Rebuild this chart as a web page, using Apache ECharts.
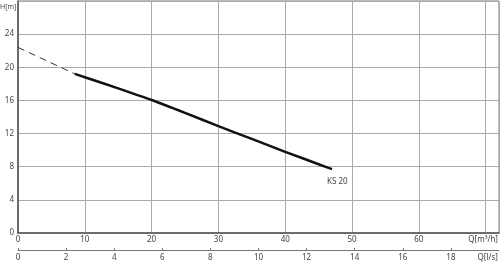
<!DOCTYPE html>
<html><head><meta charset="utf-8">
<script src="https://cdn.jsdelivr.net/npm/echarts@6/dist/echarts.min.js"></script>
<style>html,body{margin:0;padding:0;background:#fff}#c{width:500px;height:263px}</style>
</head><body><div id="c"></div>
<script>
const qTicks = [0, 10, 20, 30, 40, 50, 60];
const lsTicks = [0, 2, 4, 6, 8, 10, 12, 14, 16, 18];
const hTicks = [0, 4, 8, 12, 16, 20, 24];
const solidCurve = [[8.5, 19.2], [10, 18.8], [15, 17.45], [20, 16.05], [25, 14.5], [30, 12.9], [35, 11.35], [40, 9.8], [45, 8.3], [47, 7.7]];
const dashedCurve = [[0, 22.4], [8.5, 19.2]];
const seriesName = 'KS 20';
const qUnit = 'Q[m³/h]';
const lsUnit = 'Q[l/s]';
const hUnit = 'H[m]';

const font = 'Noto Sans';
const lc = '#444';
const chart = echarts.init(document.getElementById('c'), null, {renderer: 'canvas'});
chart.setOption({
  animation: false,
  grid: [
    {left: 18, right: 1, top: 1, bottom: 30, show: true, borderColor: '#777', borderWidth: 1},
    {left: 18, right: 1, top: 250, height: 0}
  ],
  xAxis: [
    {gridIndex: 0, type: 'value', min: 0, max: 72, interval: 10,
     axisLine: {show: true, lineStyle: {color: '#555', width: 1.5}},
     axisTick: {show: false},
     splitLine: {show: true, lineStyle: {color: '#aaa', width: 1}},
     axisLabel: {color: lc, fontFamily: font, fontSize: 8, margin: 3, showMaxLabel: false,
       formatter: v => qTicks.includes(v) ? String(v) : ''}},
    {gridIndex: 1, type: 'value', min: 0, max: 20, interval: 2,
     axisLine: {show: true, onZero: false, lineStyle: {color: '#777', width: 1}},
     axisTick: {show: true, inside: true, length: 2, lineStyle: {color: '#777'}},
     splitLine: {show: false},
     axisLabel: {color: lc, fontFamily: font, fontSize: 8, margin: 4, showMaxLabel: false,
       formatter: v => lsTicks.includes(v) ? String(v) : ''}}
  ],
  yAxis: [
    {gridIndex: 0, type: 'value', min: 0, max: 28, interval: 4,
     axisLine: {show: true, lineStyle: {color: '#555', width: 1.5}},
     axisTick: {show: false},
     splitLine: {show: true, lineStyle: {color: '#aaa', width: 1}},
     axisLabel: {color: lc, fontFamily: font, fontSize: 8, margin: 4, showMaxLabel: false,
       formatter: v => hTicks.includes(v) ? String(v) : ''}},
    {gridIndex: 1, type: 'value', show: false}
  ],
  series: [
    {type: 'line', xAxisIndex: 0, yAxisIndex: 0, data: dashedCurve, symbol: 'none',
     lineStyle: {color: '#333', width: 1, type: [7, 5]}},
    {type: 'line', name: seriesName, xAxisIndex: 0, yAxisIndex: 0, data: solidCurve, symbol: 'none', smooth: 0.2,
     lineStyle: {color: '#111', width: 2.5},
     endLabel: {show: true, formatter: seriesName, color: lc, fontFamily: font, fontSize: 8, offset: [-13, 13]}}
  ],
  graphic: [
    {type: 'text', left: 0, top: 3, z: 100, style: {text: hUnit, fill: lc, font: '7px "Noto Sans"'}},
    {type: 'text', right: 2, top: 236, style: {text: qUnit, fill: lc, font: '8px "Noto Sans"'}},
    {type: 'text', right: 2, top: 254, style: {text: lsUnit, fill: lc, font: '8px "Noto Sans"'}}
  ]
});
</script></body></html>
